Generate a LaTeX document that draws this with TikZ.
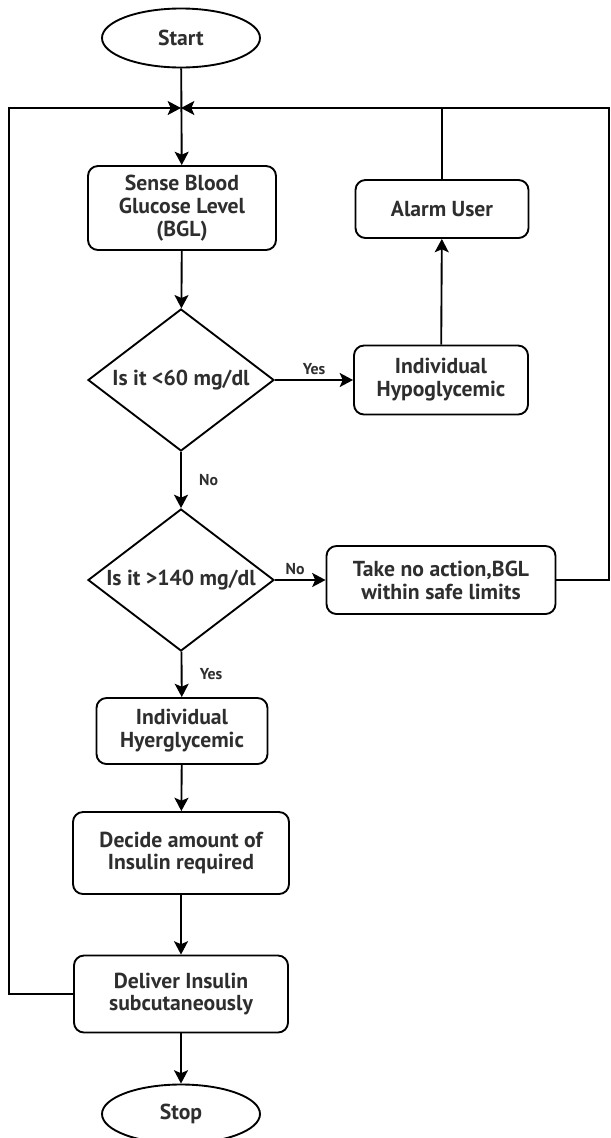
\documentclass[tikz,border=0pt]{standalone}
\usepackage{fontspec}
\setmainfont{PT Sans}
\usetikzlibrary{shapes.geometric,arrows.meta}

\begin{document}
\begin{tikzpicture}[x=0.03cm, y=-0.03cm, line width=1.6pt,
	every node/.style={font=\bfseries\fontsize{18.5}{19.5}\selectfont, text=black!82},
	>={Stealth[length=4mm, width=4.2mm, inset=0.9mm]},
	proc/.style={draw, rounded corners=3mm, align=center, inner sep=0pt},
	term/.style={draw, ellipse, minimum width=4.74cm, minimum height=1.77cm, inner sep=0pt},
	test/.style={draw, diamond, aspect=1.33, minimum width=5.58cm, minimum height=4.26cm, inner sep=0pt},
	lbl/.style={font=\bfseries\fontsize{13.5}{14}\selectfont}]
	\useasboundingbox (0,0) rectangle (611,1138);
	% nodes
	\node[term] (start) at (181,38) {Start};
	\node[proc, minimum width=5.64cm, minimum height=2.52cm] (sense) at (182,208) {Sense Blood\\Glucose Level\\(BGL)};
	\node[proc, minimum width=5.19cm, minimum height=1.74cm] (alarm) at (442,209) {Alarm User};
	\node[test] (low) at (181,380) {\makebox[0pt]{Is it <60 mg/dl}};
	\node[proc, minimum width=5.22cm, minimum height=2.07cm] (hypo) at (441,380) {Individual\\Hypoglycemic};
	\node[test] (high) at (181,580) {\makebox[0pt]{Is it >140 mg/dl}};
	\node[proc, minimum width=6.87cm, minimum height=2.04cm] (safe) at (441,580) {Take no action,BGL\\within safe limits};
	\node[proc, minimum width=5.13cm, minimum height=1.98cm] (hyper) at (182,731) {Individual\\Hyerglycemic};
	\node[proc, minimum width=6.48cm, minimum height=2.46cm] (decide) at (181,853) {Decide amount of\\Insulin required};
	\node[proc, minimum width=6.42cm, minimum height=2.31cm] (deliver) at (181,994) {Deliver Insulin\\subcutaneously};
	\node[term] (stop) at (181,1114) {Stop};
	\coordinate (loop) at (181,108);
	% connectors
	\draw[->] (start) -- (sense);
	\draw[->] (sense) -- (low);
	\draw[->] (low) -- node[lbl, above, pos=0.5] {Yes} (hypo);
	\draw[->] (hypo) -- (alarm);
	\draw (alarm.north) -- (alarm.north |- loop);
	\draw[->] (low) -- node[lbl, right, xshift=4mm] {No} (high);
	\draw[->] (high) -- node[lbl, above, pos=0.4] {No} (safe);
	\draw[->] (safe.east) -- (609,580) -- (609,108) -- (loop);
	\draw[->] (high) -- node[lbl, right, xshift=4mm] {Yes} (hyper);
	\draw[->] (hyper) -- (decide);
	\draw[->] (decide) -- (deliver);
	\draw[->] (deliver) -- (stop);
	\draw[->] (deliver.west) -- (9,994) -- (9,108) -- (loop);
\end{tikzpicture}
\end{document}
